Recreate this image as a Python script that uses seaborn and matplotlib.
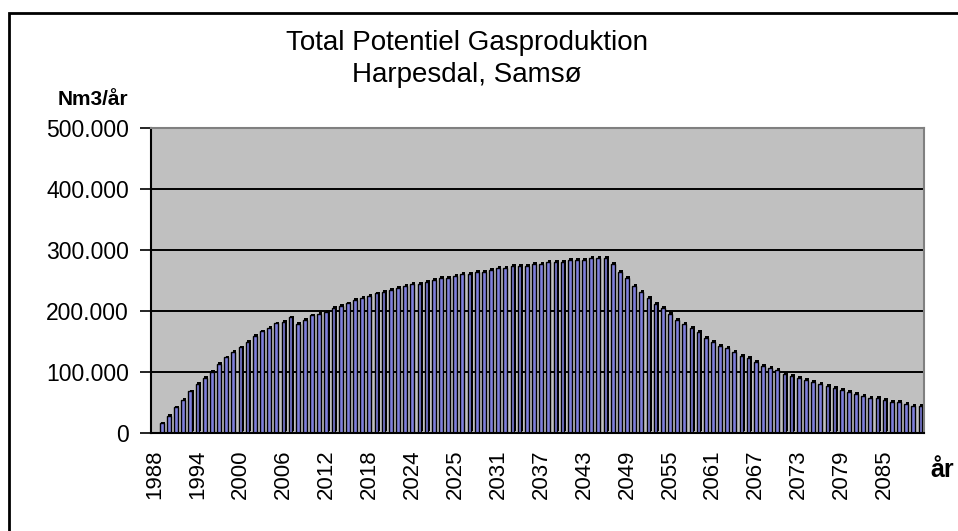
import numpy as np
import pandas as pd
import matplotlib
matplotlib.use("Agg")
import matplotlib.pyplot as plt
import matplotlib.transforms as mtransforms
from matplotlib.patches import Rectangle
from matplotlib.ticker import FuncFormatter
import seaborn as sns

# year labels as they appear on the axis (the source repeats 2020-2024)
years_first = list(range(1988, 2025))
years_second = list(range(2020, 2091))
years = years_first + years_second

# Nm3 per year
gas = [
    0, 15800, 28400, 42000, 54600, 68300, 80900, 90700, 100000, 113600,
    124000, 132800, 140400, 149700, 159500, 166700, 172700, 179800, 182500, 189600,
    179200, 185800, 192900, 195600, 198300, 205500, 208700, 212500, 218600, 221800,
    225100, 229000, 231700, 235000, 238200, 241500, 244800, 244800, 248000, 251300,
    254600, 254600, 257900, 261200, 261200, 264500, 264500, 267700, 271000, 271000,
    274300, 274300, 274300, 277600, 277600, 280900, 280900, 280900, 284100, 284100,
    284100, 287400, 287400, 287400, 277600, 264500, 254600, 241500, 231700, 221800,
    212000, 205500, 195600, 185800, 179200, 172700, 166100, 156300, 149700, 143200,
    139900, 133300, 126800, 123500, 116900, 110400, 107100, 103800, 97300, 94000,
    90700, 87400, 84100, 80900, 77600, 74300, 71000, 67800, 64500, 61200,
    57900, 57900, 54600, 51400, 51400, 48100, 44800, 44800,
]

df = pd.DataFrame({"idx": range(len(gas)), "year": years, "gas": gas})

sns.set_style("white")
plt.rcParams["font.family"] = ["Liberation Sans", "DejaVu Sans"]
plt.rcParams["text.color"] = "black"
plt.rcParams["xtick.color"] = "black"
plt.rcParams["ytick.color"] = "black"

fig = plt.figure(figsize=(9.58, 5.31), dpi=100)
ax = fig.add_axes([0.1576, 0.1846, 0.8069, 0.5744])
ax.set_facecolor("#C0C0C0")

# dark "depth" behind each column, nudged up and right
sns.barplot(data=df, x="idx", y="gas", color="black", saturation=1,
            width=0.52, linewidth=0, ax=ax)
shift = mtransforms.offset_copy(ax.transData, fig=fig, x=1.3, y=1.6, units="dots")
for p in ax.patches:
    p.set_transform(shift)

sns.barplot(data=df, x="idx", y="gas", color="#7F7FDC", saturation=1,
            width=0.52, edgecolor="black", linewidth=1.0, ax=ax)

ax.set_xlim(-0.5, len(gas) - 0.5)
ax.set_ylim(0, 500000)
ax.set_yticks(range(0, 500001, 100000))
ax.yaxis.set_major_formatter(FuncFormatter(lambda v, _: f"{int(v):,}".replace(",", ".")))

lab_pos = list(range(0, len(gas), 6))
ax.set_xticks(lab_pos)
ax.set_xticklabels([str(years[i]) for i in lab_pos], rotation=90)
ax.set_xticks(np.arange(-0.5, len(gas), 1), minor=True)
ax.tick_params(axis="x", which="major", length=0, pad=12, labelsize=16)
ax.tick_params(axis="x", which="minor", length=5, width=1.2, color="black", direction="out")
ax.tick_params(axis="y", length=8, width=1.2, color="black", direction="out",
               pad=8, labelsize=16.5, left=True)

ax.set_xlabel("")
ax.set_ylabel("")
ax.grid(axis="y", color="black", linewidth=1.4)
ax.set_axisbelow(True)
for side in ["left", "bottom"]:
    ax.spines[side].set_color("black")
    ax.spines[side].set_linewidth(1.5)
for side in ["top", "right"]:
    ax.spines[side].set_color("#808080")
    ax.spines[side].set_linewidth(1.5)

fig.text(0.4875, 0.889, "Total Potentiel Gasproduktion\nHarpesdal, Samsø",
         ha="center", va="center", fontsize=20, linespacing=1.3)
fig.text(0.097, 0.812, "Nm3/år", ha="center", va="center",
         fontsize=15, fontweight="bold")
fig.text(0.984, 0.115, "år", ha="center", va="center",
         fontsize=18, fontweight="bold")

# outer chart frame (runs off the right and bottom edge)
fig.patches.append(Rectangle((8.5 / 958, -0.1), 1.2, 1.1 - 13.5 / 531,
                             transform=fig.transFigure, fill=False,
                             edgecolor="black", linewidth=2))

fig.savefig("out.png", dpi=100)
